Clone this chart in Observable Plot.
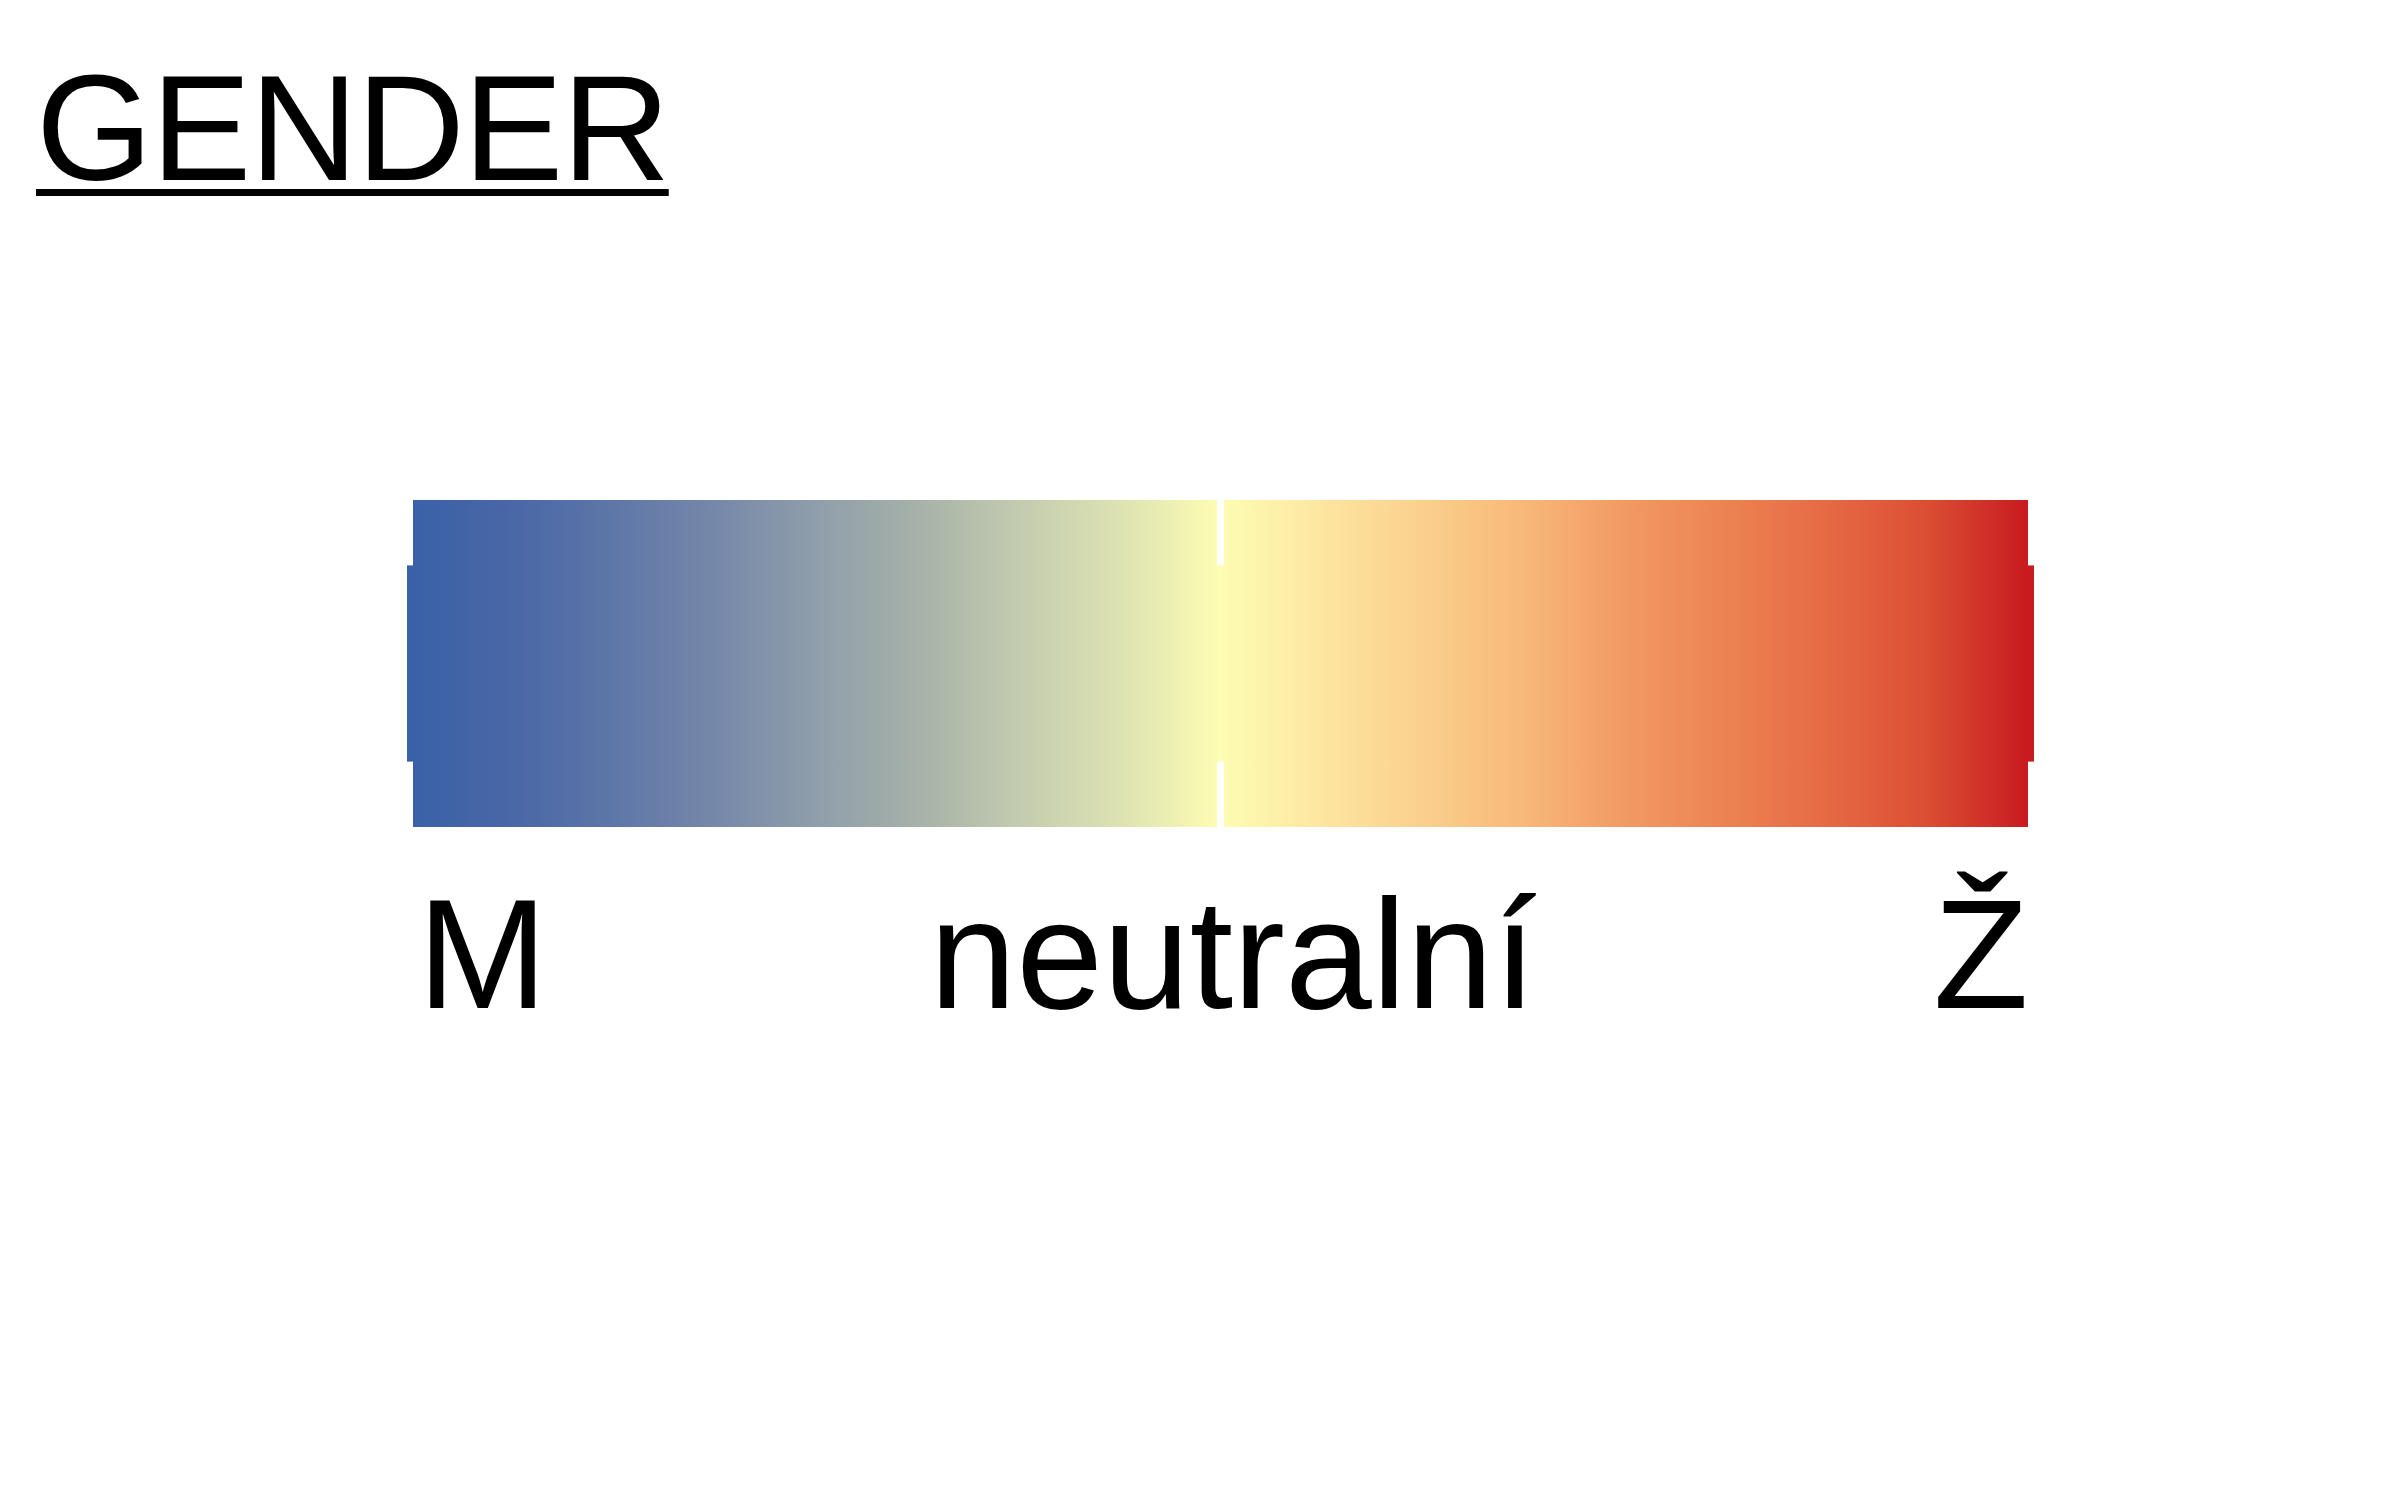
<!DOCTYPE html>
<html>
<head>
<meta charset="utf-8">
<script src="https://cdn.jsdelivr.net/npm/d3@7"></script>
<script src="https://cdn.jsdelivr.net/npm/@observablehq/plot@0.6"></script>
<style>
  html, body { margin: 0; padding: 0; background: #ffffff; }
  #page { position: relative; width: 2400px; height: 1500px; overflow: hidden; font-family: "Liberation Sans", Arial, Helvetica, sans-serif; }
  #title {
    position: absolute; left: 36px; top: 53px; margin: 0;
    font-size: 150px; line-height: 150px; font-weight: normal; color: #000;
    letter-spacing: -1.5px;
    text-decoration: underline; text-decoration-thickness: 7px; text-underline-offset: 9px;
    white-space: nowrap;
  }
  #chart { position: absolute; left: 0; top: 210px; }
</style>
</head>
<body>
<div id="page">
  <div id="title">GENDER</div>
  <div id="chart"></div>
</div>
<script>
// ---- data ----
const titleText = "GENDER";
const labels = ["M", "neutralní", "Ž"];
const labelValues = [-1, 0, 1];
// gradient stops (position on the M..Ž scale, colour)
const stopValues = [-1, -0.875, -0.75, -0.625, -0.5, -0.375, -0.25, -0.125, 0,
                    0.125, 0.25, 0.375, 0.5, 0.625, 0.75, 0.875, 1];
const stopColors = ["#3a61a8", "#4a67a6", "#5e77a8", "#7688a9", "#8f9eab", "#a6b1a8", "#c3cbaf", "#dde2b2", "#fdfdb3",
                    "#fde6a0", "#fad08c", "#f8b87a", "#f29a64", "#ec8352", "#e66a44", "#db4e33", "#c81a1f"];
// bar pieces: left half, right half, central strip
const halfStart = [-1, 0];
const halfEnd = [0, 1];
const stripStart = [-1];
const stripEnd = [1];
const stripLow = [0.2];
const stripHigh = [0.8];

const halves = halfStart.map((s, i) => ({x1: s, x2: halfEnd[i], y1: 0, y2: 1}));
const strip = stripStart.map((s, i) => ({x1: s, x2: stripEnd[i], y1: stripLow[i], y2: stripHigh[i]}));
const labelData = labels.map((t, i) => ({label: t, x: labelValues[i]}));

const W = 2400, H = 1290;
const font = "Liberation Sans, Arial, Helvetica, sans-serif";

const plot = Plot.plot({
  width: W,
  height: H,
  marginLeft: 413,
  marginRight: 372,
  marginTop: 290,
  marginBottom: 673,
  style: {background: "transparent", fontFamily: font},
  x: {domain: [-1, 1], axis: null},
  y: {domain: [0, 1], axis: null},
  marks: [
    Plot.rect([halves[0]], {x1: "x1", x2: "x2", y1: "y1", y2: "y2", fill: "url(#genderGrad)", insetRight: 3.5}),
    Plot.rect([halves[1]], {x1: "x1", x2: "x2", y1: "y1", y2: "y2", fill: "url(#genderGrad)", insetLeft: 3.5}),
    Plot.rect(strip, {x1: "x1", x2: "x2", y1: "y1", y2: "y2", fill: "url(#genderGrad)", insetLeft: -6, insetRight: -6}),
    Plot.text(labelData.filter(d => d.x < 0), {x: "x", text: "label", frameAnchor: "bottom", lineAnchor: "bottom", textAnchor: "start", dy: 180, dx: 4, fontSize: 156, fill: "#000"}),
    Plot.text(labelData.filter(d => d.x === 0), {x: "x", text: "label", frameAnchor: "bottom", lineAnchor: "bottom", textAnchor: "middle", dy: 180, dx: 12, fontSize: 156, fill: "#000"}),
    Plot.text(labelData.filter(d => d.x > 0), {x: "x", text: "label", frameAnchor: "bottom", lineAnchor: "bottom", textAnchor: "end", dy: 180, dx: 0, fontSize: 156, fill: "#000"})
  ]
});

// gradient defined in user space with the plot's own x scale
const xs = plot.scale("x");
const svgSel = d3.select(plot.tagName.toLowerCase() === "svg" ? plot : plot.querySelector("svg"));
const grad = svgSel.insert("defs", ":first-child")
  .append("linearGradient")
  .attr("id", "genderGrad")
  .attr("gradientUnits", "userSpaceOnUse")
  .attr("x1", xs.apply(-1)).attr("x2", xs.apply(1))
  .attr("y1", 0).attr("y2", 0);
const [d0, d1] = xs.domain;
stopValues.forEach((v, i) => {
  grad.append("stop")
    .attr("offset", (v - d0) / (d1 - d0))
    .attr("stop-color", stopColors[i]);
});

document.getElementById("title").textContent = titleText;
document.getElementById("chart").appendChild(plot);
</script>
</body>
</html>
